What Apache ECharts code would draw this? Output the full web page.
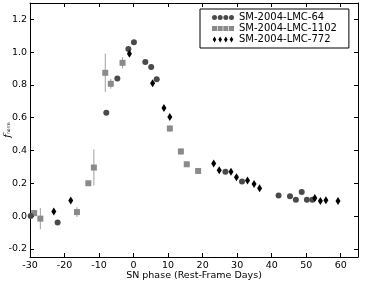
<!DOCTYPE html>
<html>
<head>
<meta charset="utf-8">
<script src="https://cdn.jsdelivr.net/npm/echarts@6/dist/echarts.min.js"></script>
<style>
  html, body { margin: 0; padding: 0; background: #fff; }
  #chart { width: 365px; height: 281px; }
</style>
</head>
<body>
<div id="chart"></div>
<script>
// tick labels
const xTicks = [-30, -20, -10, 0, 10, 20, 30, 40, 50, 60]
const yTicks = [-0.2, 0, 0.2, 0.4, 0.6, 0.8, 1.0, 1.2]

// SM-2004-LMC-64 (circles)  [phase, flux]
const lmc64 = [
  [-29.8, 0.0], [-22.0, -0.04], [-7.9, 0.63], [-4.7, 0.84], [-1.5, 1.02],
  [0.1, 1.06], [3.4, 0.94], [5.1, 0.91], [6.7, 0.835], [26.6, 0.27],
  [31.4, 0.21], [42.0, 0.126], [45.3, 0.12], [47.0, 0.10], [48.7, 0.146],
  [50.2, 0.10], [51.8, 0.10]
]

// SM-2004-LMC-1102 (squares)  [phase, flux, error]
const lmc1102 = [
  [-28.8, 0.018, 0.02], [-27.0, -0.016, 0.065], [-16.4, 0.024, 0.03],
  [-13.1, 0.20, 0.01], [-11.5, 0.296, 0.11], [-8.2, 0.874, 0.117],
  [-6.6, 0.807, 0.03], [-3.2, 0.935, 0.035], [10.5, 0.534, 0.02],
  [13.7, 0.394, 0.02], [15.4, 0.316, 0.01], [18.7, 0.275, 0.01]
]

// SM-2004-LMC-772 (thin diamonds)  [phase, flux]
const lmc772 = [
  [-23.1, 0.028], [-18.2, 0.095], [-1.2, 0.99], [5.5, 0.81], [8.8, 0.66],
  [10.5, 0.605], [23.2, 0.32], [24.8, 0.28], [28.2, 0.27], [29.8, 0.237],
  [33.0, 0.217], [34.9, 0.195], [36.5, 0.17], [52.5, 0.11], [54.1, 0.092],
  [55.7, 0.097], [59.2, 0.092]
]

const names = ['SM-2004-LMC-64', 'SM-2004-LMC-1102', 'SM-2004-LMC-772']

const FONT = 'DejaVu Sans'
const diamond = 'path://M0,-1L0.5,0L0,1L-0.5,0Z'

// legend icons: four markers per row like the original
const circlesIcon = 'path://' + [0, 5.67, 11.33, 17].map(x =>
  `M${x} 2.5A2.5 2.5 0 1 1 ${x + 5} 2.5A2.5 2.5 0 1 1 ${x} 2.5Z`).join(' ')
const squaresIcon = 'path://' + [0, 5.67, 11.33, 17].map(x =>
  `M${x} 0L${x + 5} 0L${x + 5} 5L${x} 5Z`).join(' ')
const diamondsIcon = 'path://' + [0, 5.67, 11.33, 17].map(x =>
  `M${x + 2.5} 0L${x + 4.3} 3L${x + 2.5} 6L${x + 0.7} 3Z`).join(' ')

const chart = echarts.init(document.getElementById('chart'))

function mirrorAxis (pos, min, max, ticks) {
  return {
    type: 'value',
    position: pos,
    min: min,
    max: max,
    splitLine: { show: false },
    axisLine: { show: true, onZero: false, lineStyle: { color: '#000', width: 1 } },
    axisTick: { show: true, inside: true, length: 4, customValues: ticks, lineStyle: { color: '#000' } },
    axisLabel: { show: false, customValues: ticks }
  }
}

const option = {
  animation: false,
  grid: { left: 30, right: 7, top: 3, bottom: 24, containLabel: false, outerBoundsMode: 'none' },
  legend: {
    orient: 'vertical',
    left: 200,
    top: 9,
    padding: [3, 12, 3, 12],
    itemGap: 0,
    itemWidth: 22,
    itemHeight: 6,
    borderColor: '#000',
    borderWidth: 1,
    textStyle: { fontFamily: FONT, fontSize: 10, color: '#000', lineHeight: 11 },
    data: [
      { name: names[0], icon: circlesIcon },
      { name: names[1], icon: squaresIcon },
      { name: names[2], icon: diamondsIcon }
    ]
  },
  xAxis: [
    {
      type: 'value',
      min: -30,
      max: 65,
      name: 'SN phase (Rest-Frame Days)',
      nameLocation: 'middle',
      nameGap: 14,
      nameMoveOverlap: false,
      nameTextStyle: { fontFamily: FONT, fontSize: 9.5, color: '#000' },
      splitLine: { show: false },
      axisLine: { onZero: false, lineStyle: { color: '#000', width: 1 } },
      axisTick: { inside: true, length: 4, customValues: xTicks, lineStyle: { color: '#000' } },
      axisLabel: {
        customValues: xTicks,
        margin: 4,
        fontFamily: FONT, fontSize: 9.5, color: '#000',
        formatter: v => String(Math.round(v))
      }
    },
    mirrorAxis('top', -30, 65, xTicks)
  ],
  yAxis: [
    {
      type: 'value',
      min: -0.25,
      max: 1.3,
      name: '{f|f}{s|norm}',
      nameLocation: 'middle',
      nameGap: 18,
      nameRotate: 90,
      nameMoveOverlap: false,
      nameTextStyle: {
        rich: {
          f: { fontFamily: 'DejaVu Serif', fontStyle: 'italic', fontSize: 10, color: '#000' },
          s: { fontFamily: FONT, fontSize: 4.5, color: '#000', padding: [4, 0, 0, 0] }
        }
      },
      splitLine: { show: false },
      axisLine: { show: true, onZero: false, lineStyle: { color: '#000', width: 1 } },
      axisTick: { show: true, inside: true, length: 4, customValues: yTicks, lineStyle: { color: '#000' } },
      axisLabel: {
        customValues: yTicks,
        margin: 3,
        fontFamily: FONT, fontSize: 9.5, color: '#000',
        formatter: v => v.toFixed(1)
      }
    },
    mirrorAxis('right', -0.25, 1.3, yTicks)
  ],
  series: [
    {
      type: 'custom',
      silent: true,
      z: 1,
      data: lmc1102,
      renderItem: (params, api) => {
        const x = api.value(0)
        const y = api.value(1)
        const e = api.value(2)
        const p1 = api.coord([x, y + e])
        const p2 = api.coord([x, y - e])
        return {
          type: 'line',
          shape: { x1: p1[0], y1: p1[1], x2: p2[0], y2: p2[1] },
          style: { stroke: '#a0a0a0', lineWidth: 1 }
        }
      }
    },
    {
      name: names[0],
      type: 'scatter',
      z: 3,
      data: lmc64,
      symbol: 'circle',
      symbolSize: 6,
      itemStyle: { color: '#4a4a4a', opacity: 1 }
    },
    {
      name: names[1],
      type: 'scatter',
      z: 2,
      data: lmc1102.map(d => [d[0], d[1]]),
      symbol: 'rect',
      symbolSize: 6,
      itemStyle: { color: '#8a8a8a', opacity: 1 }
    },
    {
      name: names[2],
      type: 'scatter',
      z: 4,
      data: lmc772,
      symbol: diamond,
      symbolSize: [5, 8],
      symbolKeepAspect: false,
      itemStyle: { color: '#000', opacity: 1 }
    }
  ]
}

chart.setOption(option)
</script>
</body>
</html>
